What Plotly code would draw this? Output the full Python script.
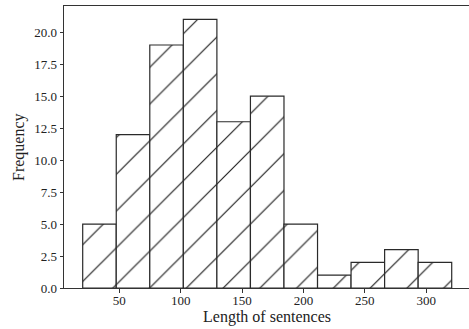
import plotly.graph_objects as go

# Histogram data
counts = [5, 12, 19, 21, 13, 15, 5, 1, 2, 3, 2]
bin_start = 20.2
bin_width = 27.32
x_ticks = [50, 100, 150, 200, 250, 300]
y_ticks = [0, 2.5, 5, 7.5, 10, 12.5, 15, 17.5, 20]
x_title = "Length of sentences"
y_title = "Frequency"

centers = [bin_start + bin_width * (i + 0.5) for i in range(len(counts))]

serif = "Liberation Serif, Times New Roman, serif"
W, H = 469, 329
ML, MR, MT, MB = 64, 0, 6, 41

fig = go.Figure()
fig.add_trace(go.Bar(
    x=centers,
    y=counts,
    width=[bin_width] * len(counts),
    marker=dict(
        color="white",
        line=dict(color="#2a2a2a", width=1.2),
        pattern=dict(shape="/", size=26, solidity=0.045, fgcolor="#1e1e1e",
                     bgcolor="white", fillmode="replace"),
    ),
    showlegend=False,
    hoverinfo="skip",
))

fig.update_layout(
    width=W, height=H,
    margin=dict(l=ML, r=MR, t=MT, b=MB, autoexpand=False),
    plot_bgcolor="white", paper_bgcolor="white",
    bargap=0,
    font=dict(family=serif, color="#222", size=12),
)
fig.update_xaxes(
    range=[4.97, 334.8],
    tickvals=x_ticks,
    ticktext=[str(v) for v in x_ticks],
    ticks="outside", ticklen=3.5, tickwidth=1, tickcolor="#333",
    showline=True, linecolor="#333", linewidth=1, mirror=True,
    showgrid=False, zeroline=False, automargin=False,
    ticklabelstandoff=-3,
    tickfont=dict(size=13, family=serif, color="#222"),
)
fig.update_yaxes(
    range=[0, 22.05],
    tickvals=y_ticks,
    ticktext=[f"{v:.1f}" for v in y_ticks],
    ticks="outside", ticklen=3.5, tickwidth=1, tickcolor="#333",
    showline=True, linecolor="#333", linewidth=1, mirror=True,
    showgrid=False, zeroline=False, automargin=False,
    tickfont=dict(size=13, family=serif, color="#222"),
)

# axis titles placed as annotations (paper coordinates derived from pixel layout)
pw, ph = W - ML - MR, H - MT - MB
fig.add_annotation(
    text=x_title, showarrow=False,
    xref="paper", yref="paper",
    x=(267 - ML) / pw, y=-(317 - (H - MB)) / ph,
    xanchor="center", yanchor="middle",
    font=dict(size=16, family=serif, color="#222"),
)
fig.add_annotation(
    text=y_title, showarrow=False, textangle=-90,
    xref="paper", yref="paper",
    x=-(ML - 19) / pw, y=0.5,
    xanchor="center", yanchor="middle",
    font=dict(size=16, family=serif, color="#222"),
)

fig.write_html(
    "out.html",
    config={"displayModeBar": False, "staticPlot": True},
    post_script="document.body.style.margin='0';document.body.style.overflow='hidden';",
)
